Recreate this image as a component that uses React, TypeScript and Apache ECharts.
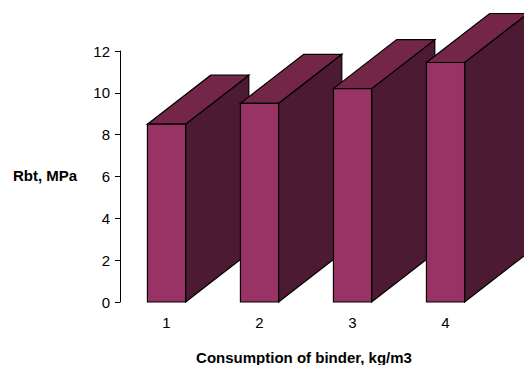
import React, { useEffect, useRef } from "react";
import * as echarts from "echarts";

const categories = ["1", "2", "3", "4"];
const values = [8.5, 9.5, 10.2, 11.45];
const yTicks = { min: 0, max: 12, interval: 2 };
const xTitle = "Consumption of binder, kg/m3";
const yTitle = "Rbt, MPa";

const FRONT = "#993366";
const TOP = "#732648";
const SIDE = "#4d1a33";
const FONT = "'Liberation Sans', Arial, sans-serif";

export default function App() {
  const ref = useRef<HTMLDivElement>(null);
  useEffect(() => {
    const chart = echarts.init(ref.current!, null, { renderer: "svg" });
    const data = values.map((v, i) => [i, v]);
    chart.setOption({
      animation: false,
      grid: { left: 120, right: 32, top: 51, bottom: 63, containLabel: false },
      xAxis: {
        type: "category",
        data: categories,
        axisLine: { show: false },
        axisTick: { show: false },
        axisLabel: { color: "#000", fontSize: 15, fontFamily: FONT, margin: 13 },
        splitLine: { show: false },
      },
      yAxis: {
        type: "value",
        min: yTicks.min,
        max: yTicks.max,
        interval: yTicks.interval,
        axisLine: { show: true, lineStyle: { color: "#000", width: 1 } },
        axisTick: { show: true, length: 5, lineStyle: { color: "#000" } },
        axisLabel: { color: "#000", fontSize: 15, fontFamily: FONT, margin: 10 },
        splitLine: { show: false },
      },
      graphic: [
        {
          type: "text",
          x: 45,
          y: 175,
          style: {
            text: yTitle,
            fill: "#000",
            font: `bold 15px ${FONT}`,
            textAlign: "center",
            textVerticalAlign: "middle",
          },
        },
        {
          type: "text",
          x: 304,
          y: 357,
          style: {
            text: xTitle,
            fill: "#000",
            font: `bold 15px ${FONT}`,
            textAlign: "center",
            textVerticalAlign: "middle",
          },
        },
      ],
      series: [
        {
          type: "custom",
          data,
          clip: false,
          renderItem: (params: any, api: any) => {
            const idx = api.value(0);
            const val = api.value(1);
            const top = api.coord([idx, val]);
            const base = api.coord([idx, 0]);
            const band = api.size([1, 0])[0];
            const w = band * 0.41;
            const dx = band * 0.68;
            const dy = band * 0.527;
            const x0 = top[0] - w / 2;
            const x1 = top[0] + w / 2;
            const yT = top[1];
            const yB = base[1];
            const stroke = { stroke: "#000", lineWidth: 1.2, lineJoin: "miter" };
            return {
              type: "group",
              children: [
                {
                  type: "polygon",
                  shape: {
                    points: [
                      [x1, yT],
                      [x1 + dx, yT - dy],
                      [x1 + dx, yB - dy],
                      [x1, yB],
                    ],
                  },
                  style: { fill: SIDE, ...stroke },
                },
                {
                  type: "polygon",
                  shape: {
                    points: [
                      [x0, yT],
                      [x1, yT],
                      [x1 + dx, yT - dy],
                      [x0 + dx, yT - dy],
                    ],
                  },
                  style: { fill: TOP, ...stroke },
                },
                {
                  type: "rect",
                  shape: { x: x0, y: yT, width: w, height: yB - yT },
                  style: { fill: FRONT, ...stroke },
                },
              ],
            };
          },
        },
      ],
    });
    return () => chart.dispose();
  }, []);
  return <div ref={ref} style={{ width: 524, height: 365, position: "absolute", left: 0, top: 0 }} />;
}
